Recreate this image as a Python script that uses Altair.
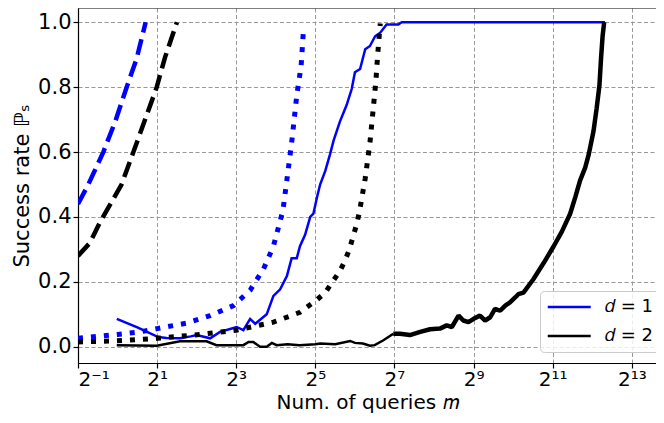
import altair as alt
import pandas as pd

# x values are log2(m); y values are success rates
blue_dash_e = [-1.0, -0.74, -0.36, -0.06, 0.23, 0.48, 0.71]
blue_dash_p = [0.44, 0.50, 0.60, 0.694, 0.80, 0.887, 1.0]

black_dash_e = [-1.0, -0.7, -0.44, -0.15, 0.1, 0.40, 0.99, 1.2, 1.5]
black_dash_p = [0.28, 0.32, 0.385, 0.446, 0.50, 0.60, 0.80, 0.892, 1.0]

blue_dot_e = [-1.0, -0.5, 0.0, 0.57, 1.0, 1.75, 2.34, 2.93, 3.35, 3.69, 3.94, 4.18, 4.40, 4.53, 4.64, 4.70]
blue_dot_p = [0.026, 0.032, 0.038, 0.046, 0.056, 0.073, 0.096, 0.127, 0.174, 0.24, 0.31, 0.42, 0.628, 0.775, 0.866, 0.978]

black_dot_e = [-1.0, -0.11, 1.0, 2.08, 3.0, 3.94, 4.61, 5.03, 5.25, 5.43, 5.62, 5.75, 5.86, 5.94, 6.03, 6.11,
               6.26, 6.38, 6.47, 6.53, 6.57, 6.62, 6.64]
black_dot_p = [0.015, 0.018, 0.026, 0.038, 0.051, 0.076, 0.106, 0.144, 0.167, 0.2, 0.233, 0.266, 0.3, 0.334,
               0.372, 0.413, 0.519, 0.63, 0.743, 0.819, 0.892, 0.968, 0.996]

blue_solid_e = [-0.02, 0.5, 1.03, 1.24, 1.58, 1.85, 2.0, 2.34, 2.59, 2.93, 3.01, 3.18, 3.35, 3.48, 3.77, 3.94,
                4.11, 4.28, 4.40, 4.53, 4.61, 4.74, 4.87, 4.95, 5.04, 5.12, 5.25, 5.37, 5.46, 5.62, 5.79,
                5.92, 6.0, 6.13, 6.26, 6.38, 6.51, 6.64, 6.8, 7.1, 7.18, 12.32]
blue_solid_p = [0.086, 0.06, 0.03, 0.027, 0.026, 0.032, 0.036, 0.026, 0.046, 0.058, 0.061, 0.051, 0.086, 0.071,
                0.10, 0.157, 0.177, 0.218, 0.273, 0.273, 0.31, 0.345, 0.40, 0.41, 0.46, 0.50, 0.542, 0.593,
                0.635, 0.694, 0.745, 0.795, 0.846, 0.856, 0.917, 0.927, 0.957, 0.968, 0.993, 0.993, 1.0, 1.0]

black_low_e = [-0.02, 0.99, 1.58, 2.25, 2.5, 3.18, 3.31, 3.43, 3.6, 3.77, 3.9, 4.02, 4.3, 4.6, 5.0, 5.12,
               5.5, 5.88, 6.0, 6.2, 6.38, 6.5, 6.72, 6.97]
black_low_p = [0.005, 0.003, 0.017, 0.017, 0.005, 0.005, 0.015, 0.015, 0.0, 0.0, 0.012, 0.005, 0.008, 0.005,
               0.008, 0.01, 0.008, 0.018, 0.012, 0.01, 0.003, 0.005, 0.02, 0.04]

black_noisy_e = [6.97, 7.14, 7.39, 7.65, 7.9, 8.15, 8.32, 8.45, 8.62, 8.74, 8.87, 9.0, 9.16, 9.29, 9.42, 9.54,
                 9.67, 9.8, 9.92, 10.05, 10.13, 10.26, 10.51, 10.77, 11.02, 11.23, 11.44, 11.57, 11.69, 11.82,
                 11.91, 12.03, 12.11, 12.18, 12.22, 12.26, 12.30]
black_noisy_p = [0.04, 0.04, 0.036, 0.046, 0.054, 0.056, 0.066, 0.061, 0.096, 0.081, 0.076, 0.086, 0.096, 0.081,
                 0.091, 0.117, 0.111, 0.127, 0.137, 0.152, 0.162, 0.167, 0.208, 0.258, 0.309, 0.355, 0.41, 0.461,
                 0.512, 0.552, 0.593, 0.664, 0.735, 0.805, 0.887, 0.957, 1.0]

series_labels = ["𝑑 = 1", "𝑑 = 2"]
series_colors = ["blue", "black"]

x_ticks = [0.5, 2, 8, 32, 128, 512, 2048, 8192]
y_ticks = [0, 0.2, 0.4, 0.6, 0.8, 1.0]


def frame(e, p, series="", seg=""):
    return pd.DataFrame({"m": [2.0 ** v for v in e], "p": p, "series": series, "seg": seg})


FONT = "DejaVu Sans"
W, H = 578, 355
x_scale = alt.Scale(type="log", base=2, domain=[0.5, 2.0 ** 13.61], nice=False)
y_scale = alt.Scale(domain=[-0.05, 1.044], nice=False, zero=False)

label_expr = ("datum.value < 1 ? '2⁻¹' : datum.value < 4 ? '2¹' : datum.value < 16 ? '2³' : "
              "datum.value < 64 ? '2⁵' : datum.value < 256 ? '2⁷' : datum.value < 1024 ? '2⁹' : "
              "datum.value < 4096 ? '2¹¹' : '2¹³'")

x_enc = alt.X("m:Q", scale=x_scale,
              axis=alt.Axis(values=x_ticks, labelExpr=label_expr, title="Num. of queries 𝑚",
                            titlePadding=3, labelPadding=1, labelFontSize=20, titleFontSize=20))
y_enc = alt.Y("p:Q", scale=y_scale,
              axis=alt.Axis(values=y_ticks, format=".1f",
                            title="Success rate ℙₛ", titlePadding=5, labelPadding=2))

color_enc = alt.Color("series:N", scale=alt.Scale(domain=series_labels, range=series_colors),
                      legend=alt.Legend(title=None, orient="none", legendX=462, legendY=283,
                                        symbolType="M-1.18,0H4.96", symbolSize=196, symbolStrokeWidth=2.5,
                                        labelFontSize=18, labelFont=FONT, labelColor="black",
                                        fillColor="rgba(255,255,255,0.8)", strokeColor="#cccccc",
                                        cornerRadius=4, padding=7, rowPadding=11, labelOffset=40))

solid_main = pd.concat([frame(blue_solid_e, blue_solid_p, series_labels[0], "a"),
                        frame(black_low_e, black_low_p, series_labels[1], "b")])
solid_noisy = frame(black_noisy_e, black_noisy_p, series_labels[1], "c")

l_solid = alt.Chart(solid_main).mark_line(strokeWidth=2.5, clip=True).encode(
    x=x_enc, y=y_enc, color=color_enc, detail="seg:N", order=alt.Order("m:Q"))
l_noisy = alt.Chart(solid_noisy).mark_line(strokeWidth=4.5, clip=True, strokeJoin="bevel").encode(
    x=x_enc, y=y_enc, color=color_enc, detail="seg:N", order=alt.Order("m:Q"))

l_bdash = alt.Chart(frame(blue_dash_e, blue_dash_p)).mark_line(
    color="blue", strokeWidth=4.5, strokeDash=[16, 7], strokeCap="butt", clip=True).encode(x=x_enc, y=y_enc)
l_kdash = alt.Chart(frame(black_dash_e, black_dash_p)).mark_line(
    color="black", strokeWidth=4.5, strokeDash=[16, 7], strokeCap="butt", clip=True).encode(x=x_enc, y=y_enc)
l_bdot = alt.Chart(frame(blue_dot_e, blue_dot_p)).mark_line(
    color="blue", strokeWidth=5, strokeDash=[5, 8], strokeCap="butt", clip=True).encode(x=x_enc, y=y_enc)
l_kdot = alt.Chart(frame(black_dot_e, black_dot_p)).mark_line(
    color="black", strokeWidth=5, strokeDash=[5, 8], strokeCap="butt", clip=True).encode(x=x_enc, y=y_enc)

top_border = alt.Chart(pd.DataFrame({"k": [0]})).mark_rule(color="black", strokeWidth=1.2).encode(
    y=alt.value(0), x=alt.value(0), x2=alt.value(W))

chart = alt.layer(l_solid, l_noisy, l_bdash, l_kdash, l_bdot, l_kdot, top_border).properties(
    width=W, height=H,
    autosize=alt.AutoSizeParams(type="none"),
    padding={"left": 70, "top": 0, "right": 0, "bottom": 52},
).configure_view(stroke=None).configure_axis(
    labelFont=FONT, titleFont=FONT, labelFontSize=21, titleFontSize=21, labelColor="black",
    titleColor="black", titleFontWeight="normal", domainColor="black", domainWidth=1.2,
    tickColor="black", tickSize=5, tickWidth=1.2, gridColor="#999999", gridDash=[4, 2.5], gridWidth=1,
)

chart.save("out.html", embed_options={"renderer": "svg", "actions": False})
